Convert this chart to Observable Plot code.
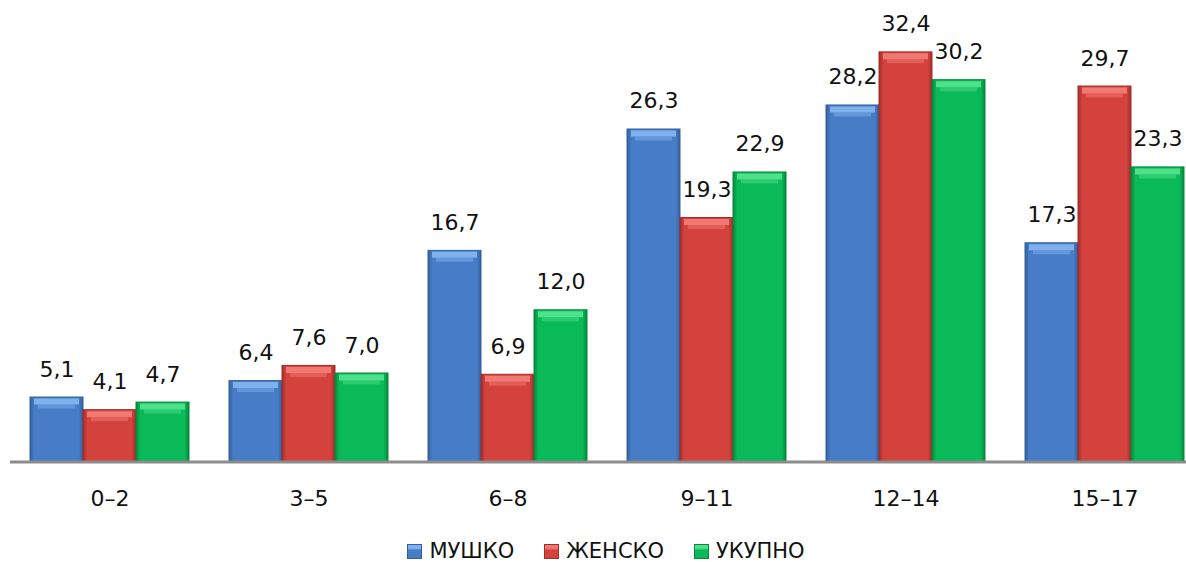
<!DOCTYPE html>
<html>
<head>
<meta charset="utf-8">
<script src="https://cdn.jsdelivr.net/npm/d3@7"></script>
<script src="https://cdn.jsdelivr.net/npm/@observablehq/plot@0.6"></script>
<style>
  body { margin: 0; background: #fff; font-family: "DejaVu Sans", sans-serif; }
  #wrap { position: relative; width: 1186px; height: 562px; overflow: hidden; }
  #legend { position: absolute; left: 0; top: 538px; width: 1186px; display: flex; justify-content: center; padding-left: 26px; box-sizing: border-box; font-size: 21px; color: #111; line-height: 26px; }
  .item { display: flex; align-items: center; margin: 0 15px; }
  .sw { width: 15px; height: 15px; margin-right: 7px; box-sizing: border-box; }
</style>
</head>
<body>
<div id="wrap"><div id="chart"></div><div id="legend"></div></div>
<script>
// ---- data ----
const groups = ["0–2", "3–5", "6–8", "9–11", "12–14", "15–17"];
const series = ["МУШКО", "ЖЕНСКО", "УКУПНО"];
const male   = [5.1, 6.4, 16.7, 26.3, 28.2, 17.3];
const female = [4.1, 7.6, 6.9, 19.3, 32.4, 29.7];
const total  = [4.7, 7.0, 12.0, 22.9, 30.2, 23.3];

// ---- styles ----
const palette = {
  "МУШКО":  {id: "gM", edge: "#33609c", main: "#477cc6", light: "#7fb1ee"},
  "ЖЕНСКО": {id: "gZ", edge: "#a02e2a", main: "#d4423d", light: "#f07a73"},
  "УКУПНО": {id: "gU", edge: "#06873c", main: "#0ab957", light: "#4fe08c"}
};

const values = [male, female, total];
const data = [];
groups.forEach((g, i) => series.forEach((s, j) => data.push({group: g, series: s, value: values[j][i]})));
const fmt = v => v.toFixed(1).replace(".", ",");

const svg = Plot.plot({
  width: 1186,
  height: 530,
  marginLeft: 29,
  marginRight: 1,
  marginTop: 19,
  marginBottom: 68.5,
  style: {fontFamily: "DejaVu Sans, sans-serif", fontSize: "22px", color: "#111", background: "transparent"},
  fx: {domain: groups, paddingInner: 0.2, paddingOuter: 0, label: null, axis: "bottom", tickSize: 0, tickPadding: 28},
  x: {domain: series, padding: 0, axis: null},
  y: {domain: [0, 35], axis: null},
  color: {type: "identity"},
  marks: [
    Plot.barY(data, {fx: "group", x: "series", y: "value", fill: d => `url(#${palette[d.series].id})`, stroke: d => palette[d.series].edge, strokeWidth: 1}),
    Plot.tickY(data, {fx: "group", x: "series", y: "value", stroke: d => palette[d.series].light, strokeWidth: 6, dy: 4, insetLeft: 4, insetRight: 4}),
    Plot.tickY(data, {fx: "group", x: "series", y: "value", stroke: d => palette[d.series].light, strokeOpacity: 0.5, strokeWidth: 4, dy: 9, insetLeft: 8, insetRight: 8}),
    Plot.ruleY([0], {stroke: "#8c8c8c", strokeWidth: 3, insetLeft: -20, insetRight: -20}),
    Plot.text(data, {fx: "group", x: "series", y: "value", text: d => fmt(d.value), lineAnchor: "bottom", dy: -21, fontSize: 22, fill: "#111"})
  ]
});

// gradient definitions
const defs = d3.select(svg).insert("defs", ":first-child");
for (const s of series) {
  const p = palette[s];
  const g = defs.append("linearGradient").attr("id", p.id).attr("x1", 0).attr("x2", 1).attr("y1", 0).attr("y2", 0);
  [[0, p.edge], [0.08, p.main], [0.92, p.main], [1, p.edge]].forEach(([o, c]) => g.append("stop").attr("offset", o).attr("stop-color", c));
}
document.getElementById("chart").appendChild(svg);

// legend
const legend = document.getElementById("legend");
for (const s of series) {
  const p = palette[s];
  const it = document.createElement("div");
  it.className = "item";
  const sw = document.createElement("span");
  sw.className = "sw";
  sw.style.background = `linear-gradient(to bottom, ${p.light} 0, ${p.light} 25%, ${p.main} 40%, ${p.main} 100%)`;
  sw.style.border = `1px solid ${p.edge}`;
  it.appendChild(sw);
  it.appendChild(document.createTextNode(s));
  legend.appendChild(it);
}
</script>
</body>
</html>
